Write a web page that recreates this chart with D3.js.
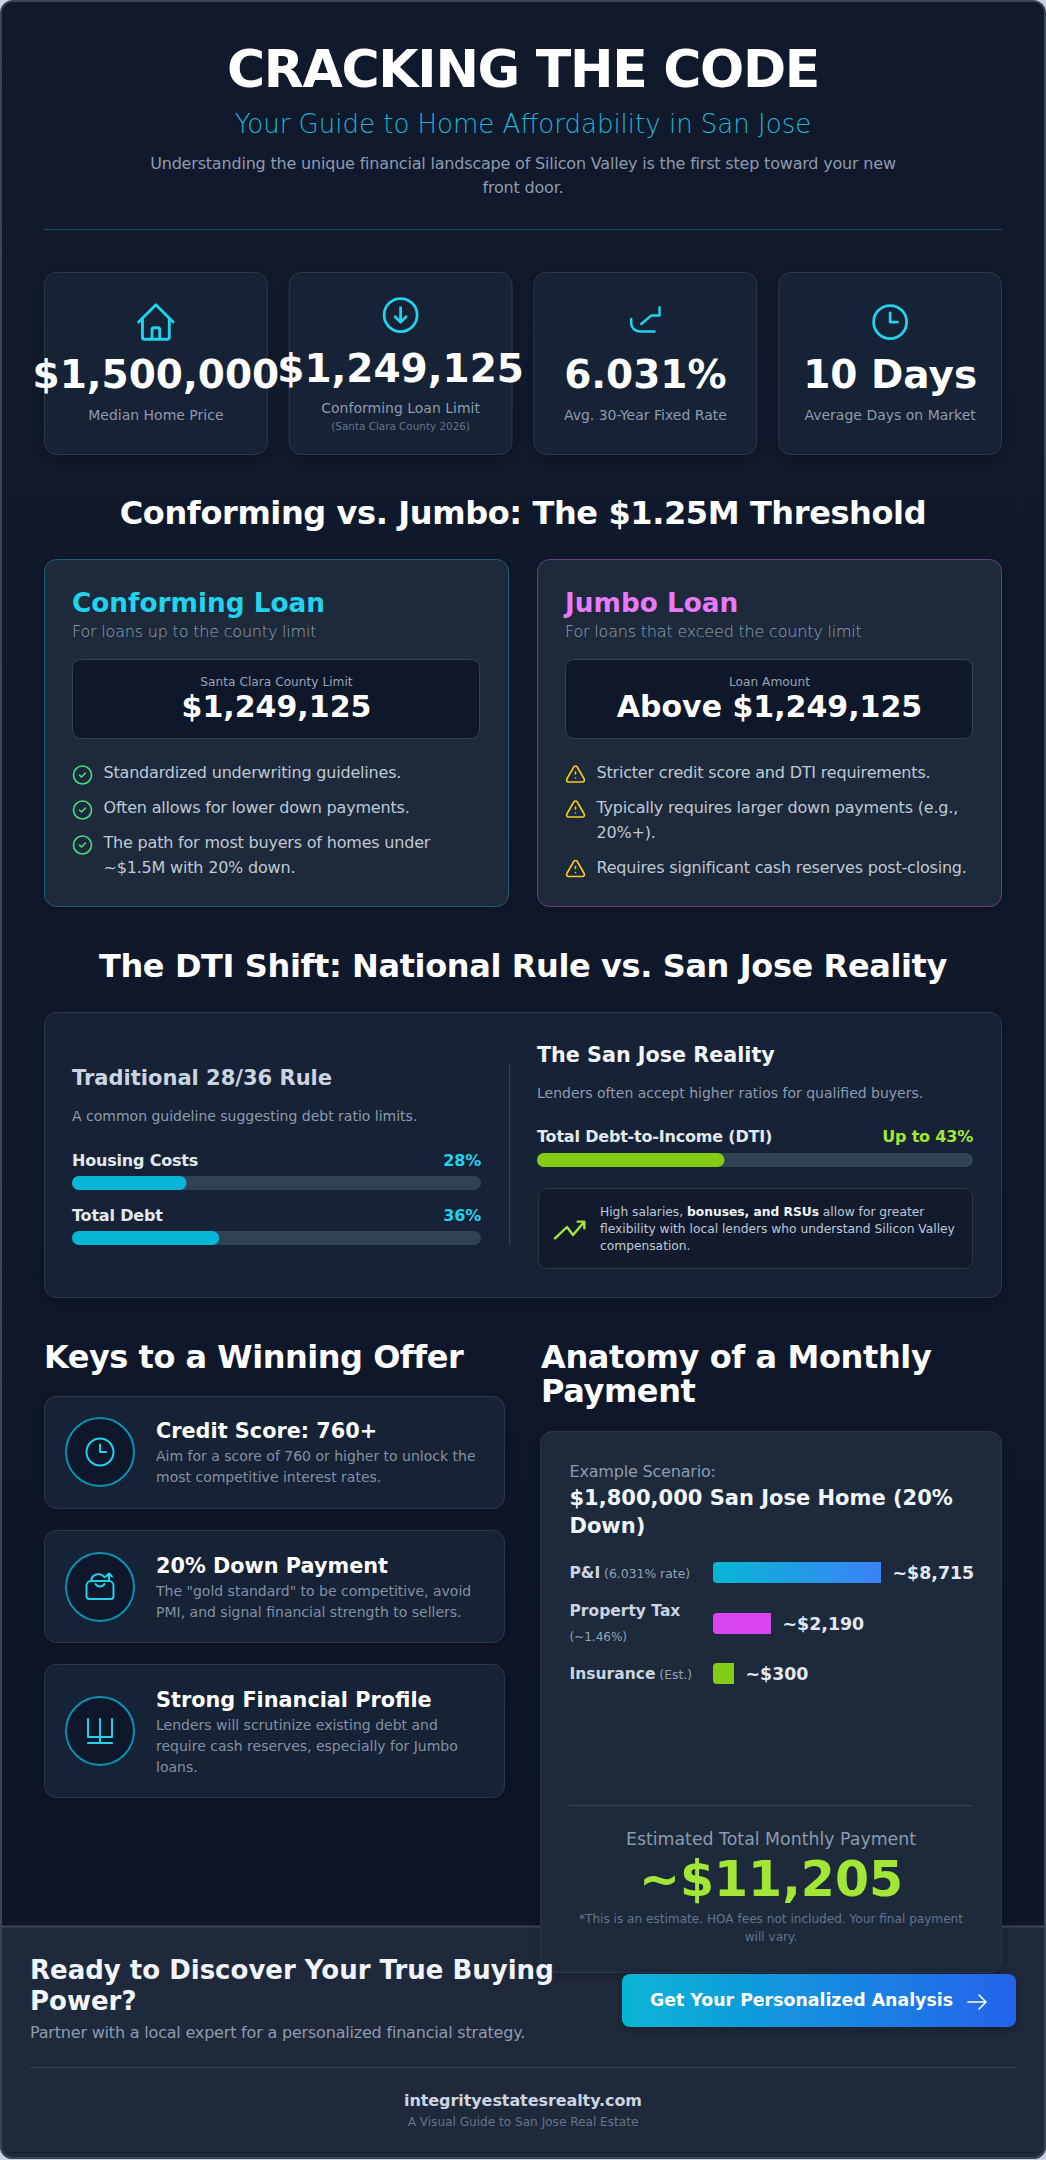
<!DOCTYPE html>
<html lang="en">
<head>
<meta charset="UTF-8" />
<title>Cracking the Code</title>
<script src="https://cdn.jsdelivr.net/npm/d3@7"></script>
<style>
  html, body { margin: 0; padding: 0; background: #cbd5e1; }
  svg { display: block; font-family: "DejaVu Sans", sans-serif; }
</style>
</head>
<body>
<div id="chart"></div>
<script>
// stat cards
var statValues = ["$1,500,000", "$1,249,125", "6.031%", "10 Days"];
var statLabels = ["Median Home Price", "Conforming Loan Limit", "Avg. 30-Year Fixed Rate", "Average Days on Market"];

// loan cards
var conformingPoints = [["Standardized underwriting guidelines."], ["Often allows for lower down payments."], ["The path for most buyers of homes under", "~$1.5M with 20% down."]];
var jumboPoints = [["Stricter credit score and DTI requirements."], ["Typically requires larger down payments (e.g.,", "20%+)."], ["Requires significant cash reserves post-closing."]];

// DTI bars, in percent
var ruleLabels = ["Housing Costs", "Total Debt"];
var ruleValues = [28, 36];
var realityLabel = "Total Debt-to-Income (DTI)";
var realityValue = 43;

// offer keys
var keyTitles = ["Credit Score: 760+", "20% Down Payment", "Strong Financial Profile"];
var keyLines = [
  ["Aim for a score of 760 or higher to unlock the", "most competitive interest rates."],
  ["The \"gold standard\" to be competitive, avoid", "PMI, and signal financial strength to sellers."],
  ["Lenders will scrutinize existing debt and", "require cash reserves, especially for Jumbo", "loans."]
];

// monthly payment
var paymentNames = ["P&I", "Property Tax", "Insurance"];
var paymentNotes = ["(6.031% rate)", "(~1.46%)", "(Est.)"];
var paymentValues = [8715, 2190, 300];
var paymentTotal = 11205;

var W = 1046, H = 2160;
var svg = d3.select("#chart").append("svg").attr("width", W).attr("height", H);
var defs = svg.append("defs");

function gradient(id, stops, vertical) {
  var g = defs.append("linearGradient").attr("id", id)
    .attr("x1", 0).attr("y1", 0).attr("x2", vertical ? 0 : 1).attr("y2", vertical ? 1 : 0);
  stops.forEach(function(s, i) {
    g.append("stop").attr("offset", i / (stops.length - 1)).attr("stop-color", s);
  });
}
gradient("bgGrad", ["#111a2d", "#0e1529"], true);
gradient("piGrad", ["#06b6d4", "#3b82f6"]);
gradient("btnGrad", ["#06b6d4", "#2563eb"]);

var shadow = defs.append("filter").attr("id", "soft").attr("x", "-15%").attr("y", "-15%").attr("width", "130%").attr("height", "130%");
shadow.append("feDropShadow").attr("dx", 0).attr("dy", 3).attr("stdDeviation", 6).attr("flood-color", "#000").attr("flood-opacity", 0.25);

function text(parent, x, y, str, size, color, opts) {
  opts = opts || {};
  // 16 and 32 px text runs a touch tighter in the reference
  var ls = opts.ls !== undefined ? opts.ls : (size === 16 || size === 32 ? -0.012 : 0);
  return parent.append("text")
    .attr("x", x).attr("y", y)
    .attr("font-size", size)
    .attr("fill", color)
    .attr("font-weight", opts.weight || 400)
    .attr("text-anchor", opts.anchor || "start")
    .attr("letter-spacing", ls * size)
    .text(str);
}

function box(parent, x, y, w, h, r, fill, stroke, soft) {
  var b = parent.append("rect")
    .attr("x", x + 0.5).attr("y", y + 0.5)
    .attr("width", w - 1).attr("height", h - 1)
    .attr("rx", r)
    .attr("fill", fill)
    .attr("stroke", stroke);
  if (soft) b.attr("filter", "url(#soft)");
  return b;
}

// 24x24 outline icons, placed with a transform
function icon(parent, paths, cx, cy, size, color, width) {
  var k = size / 24;
  var g = parent.append("g")
    .attr("transform", "translate(" + (cx - size / 2) + "," + (cy - size / 2) + ") scale(" + k + ")")
    .attr("fill", "none")
    .attr("stroke", color)
    .attr("stroke-width", width || 2)
    .attr("stroke-linecap", "round")
    .attr("stroke-linejoin", "round");
  paths.forEach(function(p) { g.append("path").attr("d", p); });
}

var ICONS = {
  house: ["M3 12l2-2m0 0l7-7 7 7M5 10v10a1 1 0 001 1h3m10-11l2 2m-2-2v10a1 1 0 01-1 1h-3m-6 0a1 1 0 001-1v-4a1 1 0 011-1h2a1 1 0 011 1v4a1 1 0 001 1m-6 0h6"],
  down: ["M15 13l-3 3m0 0l-3-3m3 3V8m0 13a9 9 0 110-18 9 9 0 010 18z"],
  rate: ["M3.5 11v3a5 5 0 005 4.500h9M9.500 14l6-5h5V4"],
  clock: ["M12 7v5h4m5 0a9 9 0 11-18 0 9 9 0 0118 0z"],
  check: ["M9 12l2 2 4-4m6 2a9 9 0 11-18 0 9 9 0 0118 0z"],
  warn: ["M12 9v2m0 4h.01m-6.938 4h13.856c1.54 0 2.502-1.667 1.732-3L13.732 4c-.77-1.333-2.694-1.333-3.464 0L3.34 16c-.77 1.333.192 3 1.732 3z"],
  trend: ["M1.500 19l9-8.500 4.500 6 8.500-10m0 0h-5m5 0v5"],
  wallet: ["M3 11a3 3 0 013-3h12a3 3 0 013 3v7a2 2 0 01-2 2H5a2 2 0 01-2-2v-7zM6 8a5 5 0 019-2.500M9 10a3.500 3.500 0 006 0M18 8V3m-2 2l2-2 2 2"],
  bank: ["M4 16V4M12 20V4M20 16V4M4 16h16M4 20h16"]
};

// page frame
svg.append("rect").attr("x", 1).attr("y", 1).attr("width", W - 2).attr("height", H - 3).attr("rx", 12)
  .attr("fill", "url(#bgGrad)").attr("stroke", "#3a4558").attr("stroke-width", 2);

// header
text(svg, 523, 87, "CRACKING THE CODE", 52, "#ffffff", {weight: 700, anchor: "middle", ls: -0.025});
text(svg, 523, 133, "Your Guide to Home Affordability in San Jose", 26, "#22d3ee", {weight: 200, anchor: "middle"}).attr("fill-opacity", 0.85);
text(svg, 523, 169, "Understanding the unique financial landscape of Silicon Valley is the first step toward your new", 16, "#8d9bb0", {anchor: "middle"});
text(svg, 523, 193, "front door.", 16, "#8d9bb0", {anchor: "middle"});
svg.append("line").attr("x1", 44).attr("x2", 1002).attr("y1", 229.5).attr("y2", 229.5).attr("stroke", "#164e63");

// stat cards
var statX = d3.scaleBand().domain(d3.range(statValues.length)).range([44, 1002]).paddingInner(0.0858);
var statIcons = [ICONS.house, ICONS.down, ICONS.rate, ICONS.clock];
var statIconSize = [46, 44, 40, 44];
var statIconY = [322, 315, 320.6, 322];
var statValueY = [388, 382, 388, 388];
var statLabelY = [420, 413, 420, 420];
statValues.forEach(function(v, i) {
  var x = statX(i), cx = x + statX.bandwidth() / 2;
  box(svg, x, 272, statX.bandwidth(), 183, 12, "#182136", "#2c384c", true);
  icon(svg, statIcons[i], cx, statIconY[i], statIconSize[i], "#22d3ee", 1.5);
  text(svg, cx, statValueY[i], v, 39, "#ffffff", {weight: 700, anchor: "middle"});
  text(svg, cx, statLabelY[i], statLabels[i], 14, "#8d9bb0", {anchor: "middle"});
});
text(svg, statX(1) + statX.bandwidth() / 2, 430, "(Santa Clara County 2026)", 10.4, "#64748b", {anchor: "middle"});

// conforming vs jumbo
text(svg, 523, 524, "Conforming vs. Jumbo: The $1.25M Threshold", 32, "#ffffff", {weight: 700, anchor: "middle"});

function loanCard(x, title, sub, color, edge, boxLabel, boxValue, points, iconPaths, iconColor) {
  var w = 465;
  box(svg, x, 559, w, 348, 12, "#1e293b", edge, true);
  text(svg, x + 28, 612, title, 26.3, color, {weight: 700});
  text(svg, x + 28, 637, sub, 16, "#94a3b8", {weight: 200});
  box(svg, x + 28, 659, w - 57, 80, 8, "#0f172a", "#334155");
  text(svg, x + w / 2, 686, boxLabel, 12.2, "#94a3b8", {anchor: "middle"});
  text(svg, x + w / 2, 717, boxValue, 30, "#ffffff", {weight: 700, anchor: "middle"});
  var y = 778;
  points.forEach(function(lines) {
    icon(svg, iconPaths, x + 38.5, y - 3, 24, iconColor, 1.6);
    lines.forEach(function(l, j) {
      text(svg, x + 59.5, y + j * 24.5, l, 16, "#bfc9d6");
    });
    y += lines.length * 24.5 + 10.5;
  });
}
loanCard(44, "Conforming Loan", "For loans up to the county limit", "#22d3ee", "#155e75", "Santa Clara County Limit", "$1,249,125", conformingPoints, ICONS.check, "#4ade80");
loanCard(537, "Jumbo Loan", "For loans that exceed the county limit", "#e879f9", "#6b3a86", "Loan Amount", "Above $1,249,125", jumboPoints, ICONS.warn, "#facc15");

// DTI section
text(svg, 523, 977, "The DTI Shift: National Rule vs. San Jose Reality", 32, "#ffffff", {weight: 700, anchor: "middle"});
box(svg, 44, 1012, 958, 286, 12, "#182136", "#2c384c", true);

var ruleScale = d3.scaleLinear().domain([0, 100]).range([0, 409]);
var realityScale = d3.scaleLinear().domain([0, 100]).range([0, 436]);

function progress(x, y, trackW, w, color) {
  svg.append("rect").attr("x", x).attr("y", y).attr("width", trackW).attr("height", 14).attr("rx", 7).attr("fill", "#334155");
  svg.append("rect").attr("x", x).attr("y", y).attr("width", w).attr("height", 14).attr("rx", 7).attr("fill", color);
}

text(svg, 72, 1085, "Traditional 28/36 Rule", 21, "#cbd5e1", {weight: 700});
text(svg, 72, 1121, "A common guideline suggesting debt ratio limits.", 14, "#8d9bb0");
var ruleY = [1166, 1221];
ruleValues.forEach(function(v, i) {
  text(svg, 72, ruleY[i], ruleLabels[i], 16, "#e2e8f0", {weight: 700});
  text(svg, 481, ruleY[i], v + "%", 16, "#22d3ee", {weight: 700, anchor: "end"});
  progress(72, ruleY[i] + 10, 409, ruleScale(v), "#06b6d4");
});
svg.append("line").attr("x1", 509.5).attr("x2", 509.5).attr("y1", 1064).attr("y2", 1246).attr("stroke", "#334155");

text(svg, 537, 1062, "The San Jose Reality", 20.7, "#f1f5f9", {weight: 700});
text(svg, 537, 1098, "Lenders often accept higher ratios for qualified buyers.", 14, "#8d9bb0");
text(svg, 537, 1142, realityLabel, 16, "#e2e8f0", {weight: 700});
text(svg, 973, 1142, "Up to " + realityValue + "%", 16, "#a3e635", {weight: 700, anchor: "end"});
progress(537, 1153, 436, realityScale(realityValue), "#84cc16");

box(svg, 538, 1188, 435, 81, 8, "#121b2e", "#2c384c");
icon(svg, ICONS.trend, 569, 1229, 32, "#a3e635", 1.8);
var calloutFirst = text(svg, 600, 1216, "High salaries, ", 12.25, "#bfc9d6");
calloutFirst.append("tspan").attr("font-weight", 700).attr("fill", "#f1f5f9").text("bonuses, and RSUs");
calloutFirst.append("tspan").text(" allow for greater");
text(svg, 600, 1233, "flexibility with local lenders who understand Silicon Valley", 12.25, "#bfc9d6");
text(svg, 600, 1250, "compensation.", 12.25, "#bfc9d6");

// keys to a winning offer
text(svg, 44, 1368, "Keys to a Winning Offer", 32, "#ffffff", {weight: 700, ls: -0.015});
var keyY = [1396, 1530, 1664];
var keyH = [113, 113, 134];
var keyIconY = [1452, 1587, 1731];
var keyIcons = [ICONS.clock, ICONS.wallet, ICONS.bank];
var keyTitleY = [1438, 1573, 1707];
keyTitles.forEach(function(t, i) {
  box(svg, 44, keyY[i], 461, keyH[i], 12, "#182136", "#2c384c", true);
  svg.append("circle").attr("cx", 100).attr("cy", keyIconY[i]).attr("r", 34)
    .attr("fill", "#0f172a").attr("stroke", "#0891b2").attr("stroke-width", 2);
  icon(svg, keyIcons[i], 100, keyIconY[i], 36, "#22d3ee", 1.3);
  text(svg, 156, keyTitleY[i], t, 20.8, "#ffffff", {weight: 700});
  keyLines[i].forEach(function(l, j) {
    text(svg, 156, keyTitleY[i] + 23 + j * 21, l, 14, "#8391a6");
  });
});

// footer band goes under the payment card
svg.append("path")
  .attr("d", "M1,1926.5H1045V2147a11,11 0 0 1 -11,11H12a11,11 0 0 1 -11,-11Z")
  .attr("fill", "#1e293b").attr("stroke", "#3a4558").attr("stroke-width", 2);
svg.append("line").attr("x1", 10).attr("x2", 1036).attr("y1", 2152.5).attr("y2", 2152.5).attr("stroke", "#172033");

// monthly payment
text(svg, 541, 1368, "Anatomy of a Monthly", 32, "#ffffff", {weight: 700});
text(svg, 541, 1402, "Payment", 32, "#ffffff", {weight: 700});
box(svg, 540, 1431, 462, 542, 12, "#1e293b", "#2a364a", true);
text(svg, 569.5, 1477, "Example Scenario:", 16, "#8d9bb0");
text(svg, 569.5, 1505, "$1,800,000 San Jose Home (20%", 21, "#f1f5f9", {weight: 700});
text(svg, 569.5, 1533, "Down)", 21, "#f1f5f9", {weight: 700});

// source bars are not proportional to the dollars, so the scale is piecewise
var payScale = d3.scaleLinear().domain([300, 2190, 8715]).range([21, 58, 168]);
var paymentFill = ["url(#piGrad)", "#d946ef", "#84cc16"];
var paymentLabelY = [1578, 1616, 1679];
var paymentBarY = [1562, 1613, 1663];
paymentValues.forEach(function(v, i) {
  var name = text(svg, 569.5, paymentLabelY[i], paymentNames[i], 15.5, "#cbd5e1", {weight: 700});
  if (i === 1) {
    text(svg, 569.5, 1641, paymentNotes[i], 12, "#94a3b8");
  } else {
    name.append("tspan").attr("font-size", 12.4).attr("font-weight", 400).attr("fill", "#94a3b8").text(" " + paymentNotes[i]);
  }
  var w = payScale(v), y = paymentBarY[i];
  svg.append("path")
    .attr("d", "M713," + (y + 4) + "a4,4 0 0 1 4,-4H" + (713 + w) + "v21H717a4,4 0 0 1 -4,-4Z")
    .attr("fill", paymentFill[i]);
  text(svg, 713 + w + 11.5, y + 17, "~$" + d3.format(",")(v), 17.4, "#e2e8f0", {weight: 700});
});

svg.append("line").attr("x1", 570).attr("x2", 973).attr("y1", 1805.5).attr("y2", 1805.5).attr("stroke", "#334155");
text(svg, 771, 1845, "Estimated Total Monthly Payment", 17.35, "#8d9bb0", {anchor: "middle"});
text(svg, 771, 1896, "~$" + d3.format(",")(paymentTotal), 49, "#a3e635", {weight: 700, anchor: "middle"});
text(svg, 771, 1923, "*This is an estimate. HOA fees not included. Your final payment", 12.1, "#64748b", {anchor: "middle"});
text(svg, 771, 1941, "will vary.", 12.1, "#64748b", {anchor: "middle"});

// footer
text(svg, 30, 1979, "Ready to Discover Your True Buying", 26, "#f1f5f9", {weight: 700});
text(svg, 30, 2010, "Power?", 26, "#f1f5f9", {weight: 700});
text(svg, 30, 2038, "Partner with a local expert for a personalized financial strategy.", 16, "#8d9bb0");
svg.append("rect").attr("x", 622).attr("y", 1974).attr("width", 394).attr("height", 53).attr("rx", 8)
  .attr("fill", "url(#btnGrad)").attr("filter", "url(#soft)");
text(svg, 650, 2006, "Get Your Personalized Analysis", 17.35, "#ffffff", {weight: 700});
icon(svg, ["M14 5l7 7m0 0l-7 7m7-7H3"], 977, 2002, 24, "#ffffff", 1.6);
svg.append("line").attr("x1", 30).attr("x2", 1015).attr("y1", 2067.5).attr("y2", 2067.5).attr("stroke", "#334155");
text(svg, 523, 2106, "integrityestatesrealty.com", 16, "#cbd5e1", {weight: 700, anchor: "middle", ls: -0.005});
text(svg, 523, 2126, "A Visual Guide to San Jose Real Estate", 12.1, "#64748b", {anchor: "middle"});
</script>
</body>
</html>
